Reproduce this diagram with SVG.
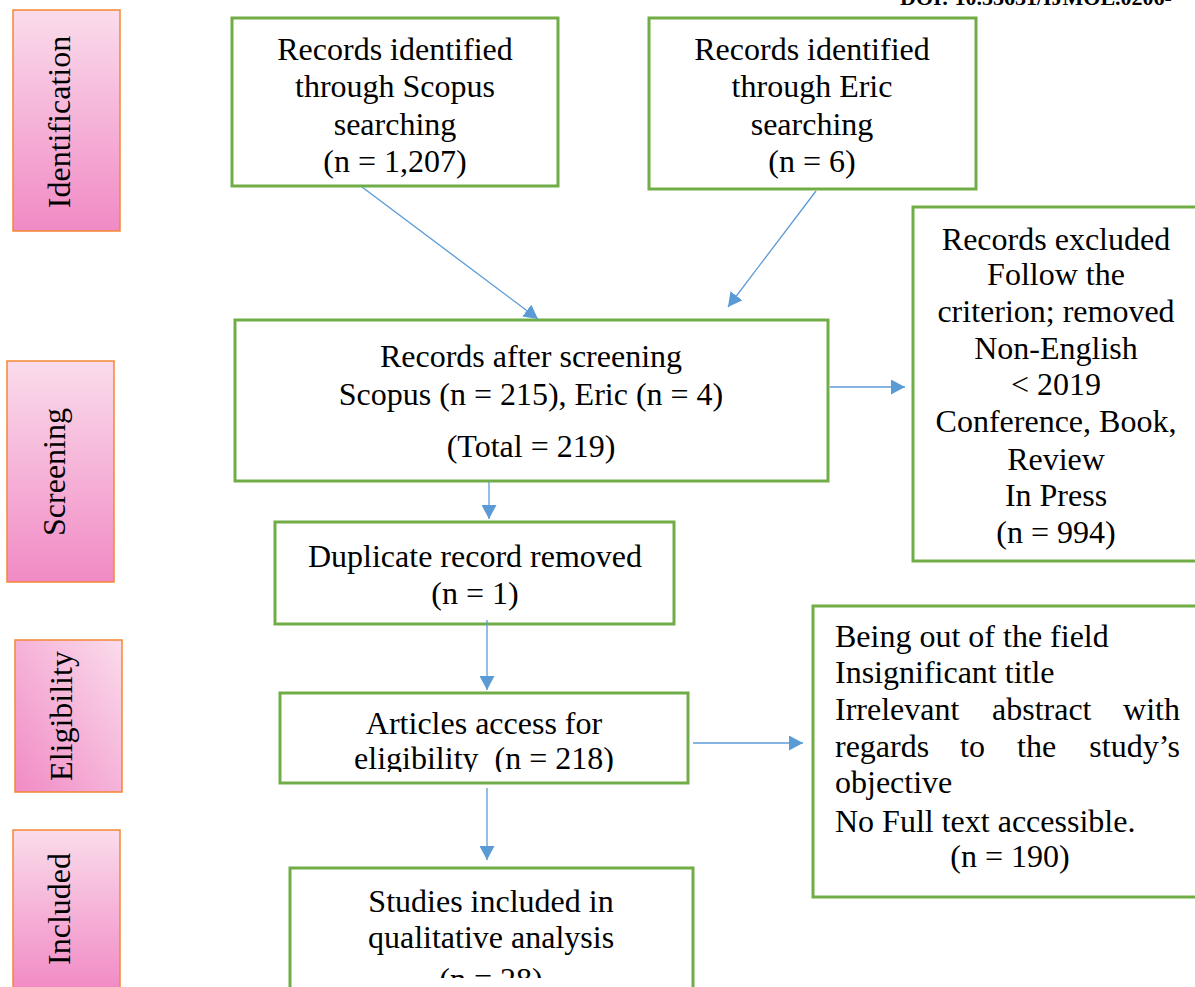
<svg xmlns="http://www.w3.org/2000/svg" width="1195" height="987" viewBox="0 0 1195 987">
<style>
  .box { fill: #ffffff; stroke: #70AD47; stroke-width: 3; }
  .phase { stroke: #F58634; stroke-width: 1.5; }
  .t { font-family: "Liberation Serif", "Times New Roman", serif; font-size: 32px; fill: #000; }
  .c { text-anchor: middle; }
  .conn line { stroke: #5B9BD5; stroke-width: 1.3; marker-end: url(#arr); }
</style>
<defs>
  <linearGradient id="gv" x1="0" y1="0" x2="0" y2="1">
    <stop offset="0" stop-color="#FADCEB"/>
    <stop offset="1" stop-color="#F18AC5"/>
  </linearGradient>
  <linearGradient id="gd" x1="1" y1="0" x2="0" y2="1">
    <stop offset="0" stop-color="#FADCEB"/>
    <stop offset="1" stop-color="#F18AC5"/>
  </linearGradient>
  <marker id="arr" markerUnits="userSpaceOnUse" markerWidth="15" markerHeight="15" refX="14" refY="7.5" orient="auto">
    <path d="M0,0 L14,7.5 L0,15 z" fill="#5B9BD5"/>
  </marker>
  <clipPath id="clipA"><rect x="280" y="693" width="408" height="79"/></clipPath>
  <clipPath id="clipS"><rect x="290" y="868" width="403" height="110"/></clipPath>
</defs>
<rect width="1195" height="987" fill="#ffffff"/>

<text x="900" y="5" font-family="Liberation Serif, Times New Roman, serif" font-size="22" font-weight="bold">DOI: 10.53631/IJMOL.0206-</text>

<g id="phase-identification">
  <rect class="phase" x="13" y="10" width="107" height="221" fill="url(#gv)"/>
  <text class="t c" transform="translate(70,122) rotate(-90)">Identification</text>
</g>
<g id="phase-screening">
  <rect class="phase" x="7" y="361" width="107" height="221" fill="url(#gv)"/>
  <text class="t c" transform="translate(65,472) rotate(-90)">Screening</text>
</g>
<g id="phase-eligibility">
  <rect class="phase" x="15" y="640" width="107" height="152" fill="url(#gd)"/>
  <text class="t c" transform="translate(72,716) rotate(-90)">Eligibility</text>
</g>
<g id="phase-included">
  <rect class="phase" x="13" y="830" width="107" height="160" fill="url(#gv)"/>
  <text class="t c" transform="translate(70,909) rotate(-90)">Included</text>
</g>

<g id="scopus">
  <rect class="box" x="232" y="18" width="326" height="168"/>
  <text class="t c" x="395" y="60">Records identified</text>
  <text class="t c" x="395" y="97">through Scopus</text>
  <text class="t c" x="395" y="135">searching</text>
  <text class="t c" x="395" y="172">(n = 1,207)</text>
</g>
<g id="eric">
  <rect class="box" x="649" y="18" width="327" height="171"/>
  <text class="t c" x="812" y="60">Records identified</text>
  <text class="t c" x="812" y="97">through Eric</text>
  <text class="t c" x="812" y="135">searching</text>
  <text class="t c" x="812" y="172">(n = 6)</text>
</g>
<g id="screened">
  <rect class="box" x="235" y="320" width="593" height="161"/>
  <text class="t c" x="531" y="367">Records after screening</text>
  <text class="t c" x="531" y="405">Scopus (n = 215), Eric (n = 4)</text>
  <text class="t c" x="531" y="457">(Total = 219)</text>
</g>
<g id="excluded">
  <rect class="box" x="913" y="207" width="290" height="354"/>
  <text class="t c" x="1056" y="250">Records excluded</text>
  <text class="t c" x="1056" y="285">Follow the</text>
  <text class="t c" x="1056" y="322">criterion; removed</text>
  <text class="t c" x="1056" y="359">Non-English</text>
  <text class="t c" x="1056" y="395">&lt; 2019</text>
  <text class="t c" x="1056" y="432">Conference, Book,</text>
  <text class="t c" x="1056" y="470">Review</text>
  <text class="t c" x="1056" y="506">In Press</text>
  <text class="t c" x="1056" y="543">(n = 994)</text>
</g>
<g id="duplicate">
  <rect class="box" x="275" y="522" width="399" height="102"/>
  <text class="t c" x="475" y="567">Duplicate record removed</text>
  <text class="t c" x="475" y="604">(n = 1)</text>
</g>
<g id="articles">
  <rect class="box" x="280" y="693" width="408" height="90"/>
  <g clip-path="url(#clipA)">
    <text class="t c" x="484" y="734">Articles access for</text>
    <text class="t c" x="484" y="769" xml:space="preserve">eligibility  (n = 218)</text>
  </g>
</g>
<g id="excluded-eligibility">
  <rect class="box" x="813" y="606" width="390" height="291"/>
  <text class="t" x="835" y="647">Being out of the field</text>
  <text class="t" x="835" y="683">Insignificant title</text>
  <text class="t" y="720"><tspan x="835">Irrelevant</tspan><tspan x="992">abstract</tspan><tspan x="1180" text-anchor="end">with</tspan></text>
  <text class="t" y="757"><tspan x="835">regards</tspan><tspan x="960">to</tspan><tspan x="1017">the</tspan><tspan x="1180" text-anchor="end">study’s</tspan></text>
  <text class="t" x="835" y="793">objective</text>
  <text class="t" x="835" y="832">No Full text accessible.</text>
  <text class="t c" x="1010" y="867">(n = 190)</text>
</g>
<g id="included">
  <rect class="box" x="290" y="868" width="403" height="130"/>
  <g clip-path="url(#clipS)">
    <text class="t c" x="491" y="912">Studies included in</text>
    <text class="t c" x="491" y="948">qualitative analysis</text>
    <text class="t c" x="491" y="990">(n = 28)</text>
  </g>
</g>

<g id="connectors" class="conn">
  <line x1="362" y1="187" x2="538" y2="319"/>
  <line x1="816" y1="191" x2="728" y2="307"/>
  <line x1="830" y1="387" x2="905" y2="387"/>
  <line x1="489" y1="482" x2="489" y2="519"/>
  <line x1="487" y1="620" x2="487" y2="690"/>
  <line x1="693" y1="743" x2="803" y2="743"/>
  <line x1="487" y1="788" x2="487" y2="860"/>
</g>
</svg>
